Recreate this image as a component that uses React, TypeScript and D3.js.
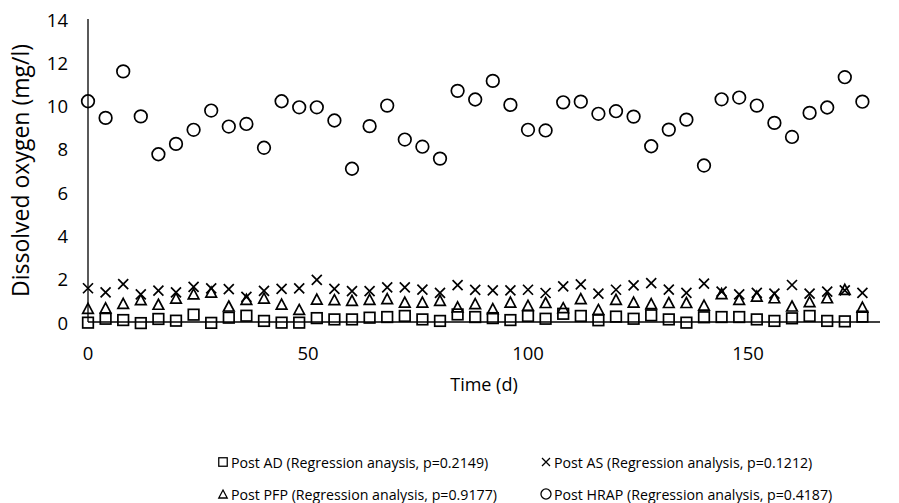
import React from "react";
import * as d3 from "d3";

const days = [0, 4, 8, 12, 16, 20, 24, 28, 32, 36, 40, 44, 48, 52, 56, 60, 64, 68, 72, 76, 80, 84, 88, 92, 96, 100, 104, 108, 112, 116, 120, 124, 128, 132, 136, 140, 144, 148, 152, 156, 160, 164, 168, 172, 176];

const postAD = [-0.03, 0.15, 0.09, -0.05, 0.14, 0.06, 0.34, -0.04, 0.2, 0.29, 0.05, -0.03, -0.03, 0.18, 0.12, 0.12, 0.2, 0.23, 0.28, 0.12, 0.05, 0.35, 0.23, 0.18, 0.09, 0.28, 0.15, 0.38, 0.28, 0.08, 0.25, 0.15, 0.31, 0.12, -0.03, 0.22, 0.23, 0.23, 0.12, 0.05, 0.17, 0.28, 0.05, 0.03, 0.25];
const postAS = [1.56, 1.37, 1.75, 1.28, 1.45, 1.37, 1.62, 1.55, 1.52, 1.16, 1.44, 1.53, 1.55, 1.95, 1.53, 1.43, 1.43, 1.6, 1.6, 1.5, 1.35, 1.7, 1.48, 1.46, 1.46, 1.49, 1.34, 1.65, 1.74, 1.31, 1.49, 1.69, 1.8, 1.5, 1.35, 1.77, 1.4, 1.28, 1.35, 1.31, 1.71, 1.31, 1.4, 1.46, 1.35];
const postPFP = [0.63, 0.65, 0.86, 1.03, 0.82, 1.1, 1.3, 1.38, 0.74, 1.05, 1.1, 0.83, 0.58, 1.06, 1.03, 1.0, 1.05, 1.08, 0.92, 0.92, 1.0, 0.7, 0.85, 0.62, 0.92, 0.77, 0.9, 0.66, 1.08, 0.58, 1.05, 0.92, 0.85, 0.9, 0.9, 0.78, 1.31, 1.05, 1.2, 1.12, 0.74, 0.94, 1.12, 1.51, 0.69];
const postHRAP = [10.2, 9.43, 11.58, 9.5, 7.75, 8.23, 8.88, 9.77, 9.03, 9.15, 8.05, 10.2, 9.92, 9.92, 9.31, 7.08, 9.05, 10.0, 8.43, 8.1, 7.55, 10.68, 10.28, 11.14, 10.03, 8.88, 8.85, 10.15, 10.18, 9.62, 9.74, 9.49, 8.12, 8.89, 9.35, 7.23, 10.29, 10.37, 10.0, 9.2, 8.55, 9.66, 9.91, 11.31, 10.18];

const yTicks = [0, 2, 4, 6, 8, 10, 12, 14];
const xTicks = [0, 50, 100, 150];

const legendLabels = [
  "Post AD (Regression anaysis, p=0.2149)",
  "Post AS (Regression analysis, p=0.1212)",
  "Post PFP (Regression analysis, p=0.9177)",
  "Post HRAP (Regression analysis, p=0.4187)",
];

const FONT = "'Open Sans', sans-serif";
const SW = 1.7;

type Kind = "square" | "x" | "triangle" | "circle";

function Marker({ kind, cx, cy, s = 1 }: { kind: Kind; cx: number; cy: number; s?: number }) {
  const common = { fill: "none", stroke: "#000", strokeWidth: SW * (s < 1 ? 0.75 : 1) };
  if (kind === "square") {
    const h = 5.3 * s;
    return <rect x={cx - h} y={cy - h} width={2 * h} height={2 * h} {...common} />;
  }
  if (kind === "x") {
    const h = 5 * s;
    return <path d={`M${cx - h},${cy - h}L${cx + h},${cy + h}M${cx - h},${cy + h}L${cx + h},${cy - h}`} {...common} />;
  }
  if (kind === "triangle") {
    const w = 5.3 * s;
    const h = 5 * s;
    return <path d={`M${cx},${cy - h}L${cx + w},${cy + h}L${cx - w},${cy + h}Z`} {...common} strokeLinejoin="miter" />;
  }
  return <circle cx={cx} cy={cy} r={6.3 * s} {...common} />;
}

export default function App() {
  const W = 899;
  const H = 503;
  const x = d3.scaleLinear().domain([0, 180]).range([88, 880]);
  const y = d3.scaleLinear().domain([0, 14]).range([322, 19]);

  const series: { kind: Kind; vals: number[] }[] = [
    { kind: "square", vals: postAD },
    { kind: "x", vals: postAS },
    { kind: "triangle", vals: postPFP },
    { kind: "circle", vals: postHRAP },
  ];

  const legendPos = [
    { kind: "square" as Kind, lx: 223, ly: 462 },
    { kind: "x" as Kind, lx: 546, ly: 462 },
    { kind: "triangle" as Kind, lx: 223, ly: 494 },
    { kind: "circle" as Kind, lx: 546, ly: 494 },
  ];

  return (
    <svg width={W} height={H} style={{ position: "absolute", left: 0, top: 0, background: "#fff" }} fontFamily={FONT}>
      <rect width={W} height={H} fill="#fff" />
      {/* axes */}
      <line x1={x(0)} x2={x(180)} y1={y(0)} y2={y(0)} stroke="#000" strokeWidth={1.3} />
      <line x1={x(0)} x2={x(0)} y1={y(0)} y2={y(14)} stroke="#000" strokeWidth={1.3} />
      {yTicks.map((t) => (
        <text key={t} x={68} y={y(t)} textAnchor="end" dominantBaseline="central" fontSize={18.5} fill="#000">
          {t}
        </text>
      ))}
      {xTicks.map((t) => (
        <text key={t} x={x(t)} y={352} textAnchor="middle" dominantBaseline="central" fontSize={18.5} fill="#000">
          {t}
        </text>
      ))}
      <text x={484} y={384} textAnchor="middle" dominantBaseline="central" fontSize={18} fill="#000">
        Time (d)
      </text>
      <text
        transform={`translate(20,${y(7)}) rotate(-90)`}
        textAnchor="middle"
        dominantBaseline="central"
        fontSize={23}
        fill="#000"
      >
        Dissolved oxygen (mg/l)
      </text>
      {/* points */}
      {series.map((s) => (
        <g key={s.kind}>
          {s.vals.map((v, i) => (
            <Marker key={i} kind={s.kind} cx={x(days[i])} cy={y(v)} />
          ))}
        </g>
      ))}
      {/* legend */}
      {legendPos.map((l, i) => (
        <g key={i}>
          <Marker kind={l.kind} cx={l.lx} cy={l.ly} s={0.8} />
          <text x={l.lx + 8} y={l.ly} dominantBaseline="central" fontSize={14.2} fill="#000">
            {legendLabels[i]}
          </text>
        </g>
      ))}
    </svg>
  );
}
